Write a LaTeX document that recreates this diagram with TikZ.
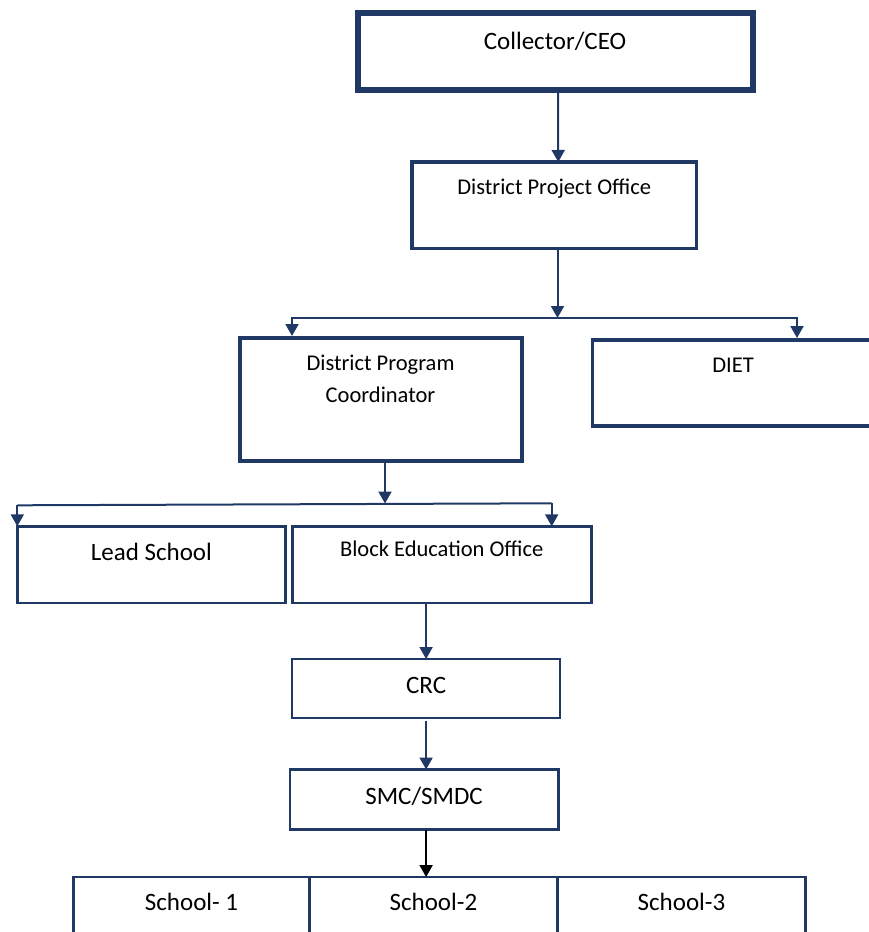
\documentclass[tikz,border=0pt]{standalone}
\usepackage{fontspec}
\setmainfont{Carlito}
\usetikzlibrary{arrows.meta}
\definecolor{navy}{RGB}{31,56,100}
\tikzset{
  box/.style={draw=navy, line width=2.7pt, anchor=north west, inner sep=0pt, outer sep=0pt},
  lbl/.style={font=\fontsize{22.5}{27}\selectfont, anchor=base, inner sep=0pt},
  lblbig/.style={font=\fontsize{25}{30}\selectfont, anchor=base, inner sep=0pt},
  arr/.style={draw=navy, line width=2pt, -{Triangle[length=12pt,width=13pt]}},
  link/.style={draw=navy, line width=2pt},
}

\begin{document}
\begin{tikzpicture}[x=1pt,y=-1pt]
\useasboundingbox (0,0) rectangle (869,932);

% top of the chart
\node[box, line width=6pt, minimum width=395pt, minimum height=77pt,
  label={[lblbig,yshift=-36pt]north:Collector/CEO}] (ceo) at (357.5,13) {};
\node[box, line width=3.5pt, minimum width=284.5pt, minimum height=86.3pt,
  label={[lbl,yshift=-32pt]north:District Project Office}] (dpo) at (412,162) {};

% district level
\node[box, line width=4pt, minimum width=282pt, minimum height=123pt,
  label={[lbl,yshift=-32pt]north:District Program},
  label={[lbl,yshift=-64pt]north:Coordinator}] (dpc) at (239.5,338) {};
\node[box, line width=3.5pt, minimum width=281pt, minimum height=86pt,
  label={[lbl,yshift=-32pt]north:DIET}] (diet) at (592.6,340) {};

% block level
\node[box, minimum width=268.2pt, minimum height=76.7pt,
  label={[lblbig,yshift=-33.7pt]north:Lead School}] (lead) at (17.3,526.3) {};
\node[box, minimum width=299pt, minimum height=76.7pt,
  label={[lbl,yshift=-30.4pt]north:Block Education Office}] (beo) at (292.2,526.3) {};
\node[box, minimum width=268pt, minimum height=59pt,
  label={[lblbig,yshift=-34pt]north:CRC}] (crc) at (292.1,659) {};
\node[box, minimum width=268.2pt, minimum height=60pt,
  label={[lblbig,yshift=-34.5pt]north:SMC/SMDC}] (smc) at (290,769.5) {};

% schools
\node[box, minimum width=235.5pt, minimum height=80pt,
  label={[lblbig,yshift=-33.7pt]north:School- 1}] (sch1) at (73.8,877) {};
\node[box, minimum width=248.3pt, minimum height=80pt,
  label={[lblbig,yshift=-33.7pt]north:School-2}] (sch2) at (309.3,877) {};
\node[box, minimum width=247.8pt, minimum height=80pt,
  label={[lblbig,yshift=-33.7pt]north:School-3}] (sch3) at (557.6,877) {};

% junctions
\coordinate (j1) at (557.5,318);
\coordinate (j2) at (385,503.5);
\coordinate (j2l) at (17.3,505.3);
\coordinate (j2r) at (551.7,503.3);

% connectors
\draw[arr] ([xshift=3pt]ceo.south) -- ([xshift=4pt]dpo.north);
\draw[arr] (dpo.south -| j1) -- (j1);
\draw[arr] (j1) -| (292,336);
\draw[arr] (j1) -| (797,338);
\draw[arr] (dpc.south -| j2) -- (j2);
\draw[link] (j2l) -- (j2r);
\draw[arr] (j2l) -- (j2l |- lead.north);
\draw[arr] (j2r) -- (j2r |- beo.north);
\draw[arr] (beo.south -| crc.north) -- (crc.north);
\draw[arr] ([yshift=-3pt]crc.south) -- (crc.south |- smc.north);
\draw[arr, draw=black] (crc.south |- smc.south) -- (crc.south |- sch2.north);
\end{tikzpicture}
\end{document}
